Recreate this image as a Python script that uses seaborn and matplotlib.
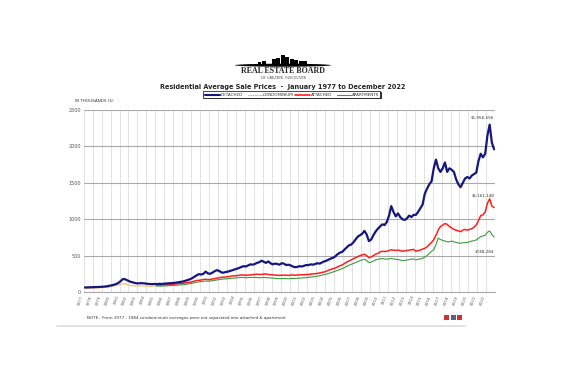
import numpy as np
import pandas as pd
import matplotlib
matplotlib.use("Agg")
import matplotlib.pyplot as plt
import seaborn as sns
from matplotlib.patches import Rectangle, Ellipse

# quarterly average sale prices, in thousands of dollars
detached = [
    62, 63, 64, 65,  66, 67, 69, 70,  72, 75, 79, 85,  92, 100, 110, 125,
    150, 178, 175, 160,  145, 135, 128, 120,  118, 122, 120, 117,  112, 110, 108, 110,
    108, 112, 110, 113,  115, 118, 120, 122,  125, 130, 135, 140,  145, 155, 165, 175,
    190, 210, 230, 245,  240, 250, 280, 255,  250, 265, 285, 300,  290, 270, 265, 275,
    280, 290, 300, 310,  320, 330, 345, 355,  350, 365, 380, 375,  385, 400, 410, 430,
    415, 400, 420, 395,  380, 390, 385, 375,  395, 390, 370, 375,  365, 350, 340, 345,
    355, 350, 360, 370,  370, 380, 375, 385,  395, 390, 405, 420,  430, 445, 460, 470,
    490, 520, 540, 550,  580, 610, 640, 650,  680, 720, 760, 780,  800, 840, 790, 700,
    720, 780, 830, 870,  900, 930, 920, 960,  1050, 1180, 1100, 1040,  1080, 1030, 1000, 990,
    1010, 1050, 1030, 1060,  1060, 1100, 1150, 1200,  1350, 1420, 1480, 1520,  1700, 1820, 1700, 1650,
    1700, 1780, 1650, 1700,  1680, 1650, 1550, 1480,  1440, 1500, 1560, 1580,  1560, 1600, 1620, 1640,
    1800, 1900, 1850, 1900,  2150, 2300, 2050, 1960,
]
condominium = [
    48, 50, 50, 52,  53, 55, 56, 58,  60, 63, 66, 70,  75, 80, 88, 95,
    105, 115, 110, 100,  92, 88, 85, 82,  82, 84, 83, 82,  80, 78, 80, 82,
]
attached = [
    95, 98, 95, 100,  100, 102, 105, 105,  108, 112, 115, 118,  120, 125, 130, 135,
    140, 150, 158, 160,  165, 172, 175, 170,  172, 178, 185, 190,  195, 200, 205, 205,
    210, 215, 220, 222,  225, 230, 235, 232,  230, 232, 235, 238,  240, 245, 240, 242,
    245, 248, 240, 238,  235, 232, 230, 228,  230, 232, 230, 228,  232, 235, 230, 233,
    235, 238, 236, 240,  240, 245, 248, 250,  255, 262, 270, 275,  285, 300, 310, 320,
    330, 345, 360, 370,  390, 410, 425, 440,  455, 470, 485, 500,  510, 520, 500, 470,
    480, 500, 520, 530,  550, 560, 555, 560,  570, 580, 575, 570,  575, 570, 560, 565,
    570, 575, 580, 585,  560, 570, 575, 590,  600, 620, 650, 680,  720, 780, 850, 900,
    920, 940, 930, 900,  880, 860, 850, 840,  830, 850, 860, 850,  860, 870, 890, 920,
    980, 1050, 1060, 1100,  1220, 1280, 1180, 1160,
]
apartments = [
    80, 82, 80, 83,  83, 85, 86, 88,  90, 92, 95, 98,  100, 105, 110, 115,
    120, 128, 135, 140,  142, 148, 150, 148,  150, 155, 160, 165,  170, 175, 178, 180,
    182, 185, 190, 192,  195, 198, 200, 198,  196, 198, 200, 202,  200, 198, 196, 198,
    200, 198, 195, 192,  190, 188, 185, 183,  185, 186, 184, 182,  185, 188, 186, 188,
    190, 192, 195, 197,  200, 205, 208, 212,  218, 225, 232, 238,  245, 255, 265, 275,
    285, 298, 310, 320,  335, 350, 365, 380,  390, 405, 418, 430,  440, 450, 430, 405,
    410, 425, 440, 450,  455, 460, 455, 450,  455, 460, 455, 450,  445, 440, 430, 435,
    440, 445, 450, 455,  440, 450, 455, 460,  480, 500, 530, 560,  580, 650, 740, 720,
    710, 700, 690, 690,  700, 690, 680, 675,  670, 675, 680, 680,  690, 700, 705, 715,
    740, 760, 770, 780,  820, 840, 790, 755,
]
years = list(range(1977, 2023))
end_labels = ["$1,956,556", "$1,161,148", "$748,284"]
end_label_y = [2400, 1330, 550]

sns.set_style("white")
plt.rcParams["font.family"] = ["DejaVu Sans"]

fig = plt.figure(figsize=(5.66, 3.77), dpi=100)
ax = fig.add_axes([0.148, 0.2255, 0.727, 0.4825])

def quarters(start_year, n):
    return [start_year + 0.125 + i / 4 for i in range(n)]

series = [
    ("CONDOMINIUM", condominium, 1977, "#f2c37a", 0.9),
    ("APARTMENTS", apartments, 1985, "#3f9a3f", 0.8),
    ("ATTACHED", attached, 1985, "#ff1f1f", 1.1),
    ("DETACHED", detached, 1977, "#16167e", 1.6),
]
for name, vals, y0, col, lw in series:
    d = pd.DataFrame({"t": quarters(y0, len(vals)), "v": vals})
    sns.lineplot(data=d, x="t", y="v", ax=ax, color=col, linewidth=lw)

ax.set_xlim(1977, 2023)
ax.set_ylim(0, 2500)
ax.set_yticks(range(0, 2501, 500))
ax.set_yticklabels([str(v) for v in range(0, 2501, 500)], fontsize=3.5, color="#555555")
ax.set_xticks(years)
ax.set_xticklabels([str(y) for y in years], rotation=70, ha="right", fontsize=3, color="#666666")
ax.tick_params(length=0, pad=2)
ax.set_xlabel("")
ax.set_ylabel("")
ax.grid(axis="x", color="#dddddd", linewidth=0.6)
ax.grid(axis="y", color="#aaaaaa", linewidth=0.8)
for s in ax.spines.values():
    s.set_visible(False)
ax.spines["bottom"].set_visible(True)
ax.spines["bottom"].set_color("#aaaaaa")

# end-of-series value labels
for yv, lab in zip(end_label_y, end_labels):
    ax.text(2022.9, yv, lab, fontsize=3, ha="right", va="center", color="#333333")

# header: skyline logo
fig.add_artist(Ellipse((0.5, 0.827), 0.17, 0.008, transform=fig.transFigure,
                       facecolor="black", edgecolor="none"))
tower_x = [0.455, 0.463, 0.480, 0.488, 0.496, 0.504, 0.512, 0.520, 0.528, 0.536]
tower_h = [0.008, 0.010, 0.016, 0.020, 0.026, 0.022, 0.017, 0.014, 0.012, 0.010]
for tx, th in zip(tower_x, tower_h):
    fig.add_artist(Rectangle((tx, 0.827), 0.007, th, transform=fig.transFigure,
                             facecolor="black", edgecolor="none"))
fig.text(0.5, 0.811, "REAL ESTATE BOARD", ha="center", va="center", fontsize=5.8,
         family=["Liberation Serif"], weight="bold")
fig.text(0.5, 0.793, "OF  GREATER  VANCOUVER", ha="center", va="center", fontsize=2.5,
         family=["Liberation Serif"])
fig.text(0.5, 0.768, "Residential Average Sale Prices  -  January 1977 to December 2022",
         ha="center", va="center", fontsize=4.7, weight="bold")
fig.text(0.133, 0.733, "IN THOUSANDS ($)", fontsize=3, ha="left", va="center", color="#333333")

# legend box
fig.add_artist(Rectangle((0.361, 0.737), 0.314, 0.018, transform=fig.transFigure,
                         facecolor="#333333", edgecolor="none"))
fig.add_artist(Rectangle((0.358, 0.740), 0.314, 0.018, transform=fig.transFigure,
                         facecolor="white", edgecolor="black", linewidth=0.5))
lx = [0.362, 0.438, 0.522, 0.595]
for x0, (name, col, lw) in zip(lx, [("DETACHED", "#16167e", 1.5), ("CONDOMINIUM", "#f2c37a", 0.8),
                                     ("ATTACHED", "#ff1f1f", 1.2), ("APARTMENTS", "#3f9a3f", 0.8)]):
    fig.add_artist(plt.Line2D([x0, x0 + 0.026], [0.749, 0.749], transform=fig.transFigure,
                              color=col, linewidth=lw))
    fig.text(x0 + 0.027, 0.749, name, fontsize=3, va="center", ha="left", color="#333333")

# footnote
fig.text(0.153, 0.157, "NOTE:  From 1977 - 1984 condominium averages were not separated into attached & apartment",
         fontsize=3, ha="left", va="center", color="#333333")
for i, c in enumerate(["#cc3333", "#556677", "#cc3333"]):
    fig.add_artist(Rectangle((0.785 + i * 0.011, 0.151), 0.009, 0.014, transform=fig.transFigure,
                             facecolor=c, edgecolor="none"))
fig.add_artist(plt.Line2D([0.10, 0.822], [0.136, 0.136], transform=fig.transFigure,
                          color="#dddddd", linewidth=1.2))

fig.savefig("out.png", dpi=100)
